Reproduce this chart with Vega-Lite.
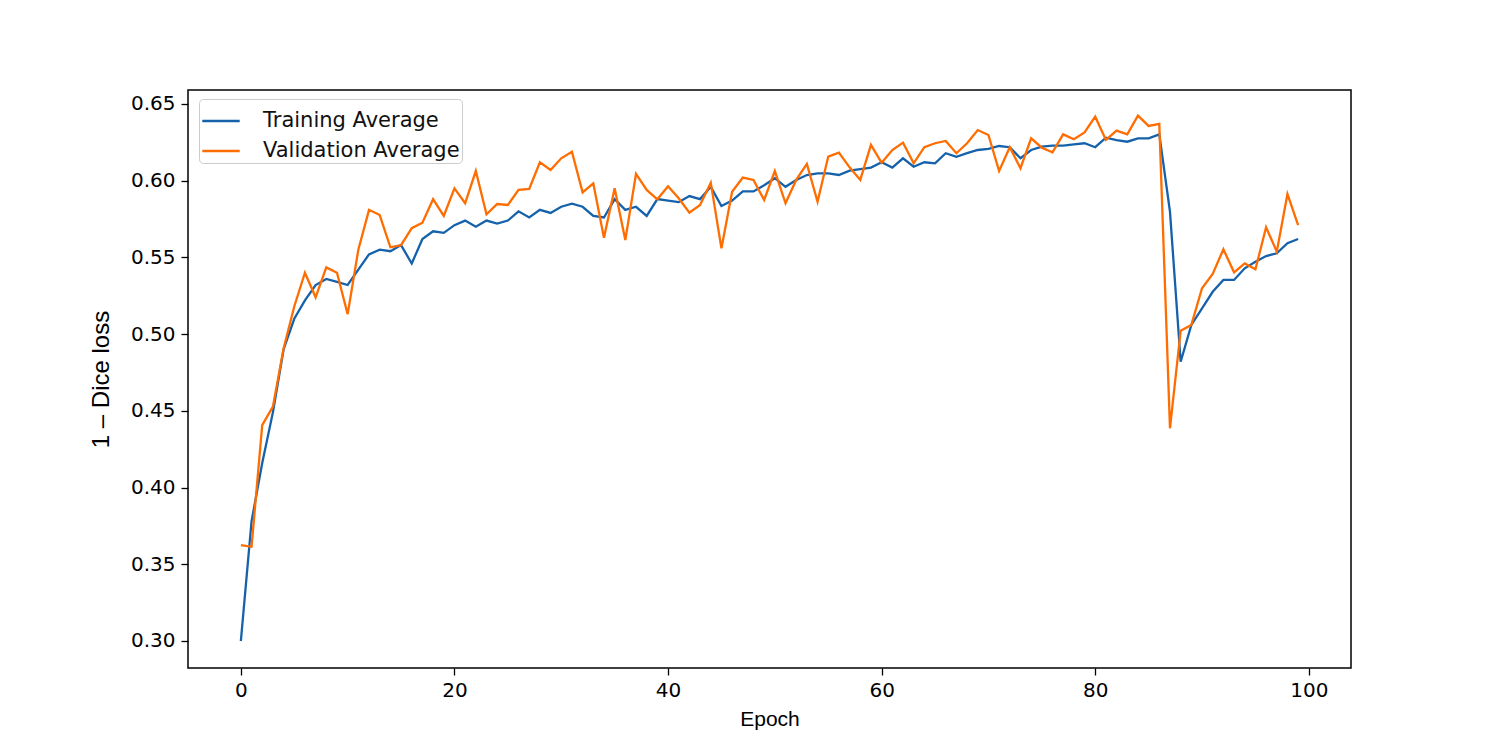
{
  "$schema": "https://vega.github.io/schema/vega-lite/v6.json",
  "width": 1163,
  "height": 578,
  "autosize": {"type": "none"},
  "padding": {"left": 188, "top": 90, "right": 149, "bottom": 82},
  "background": "white",
  "config": {
    "view": {"stroke": "black", "strokeWidth": 1.5},
    "font": "DejaVu Sans"
  },
  "data": {
    "values": [
      {"e":0,"t":0.300,"v":0.3625},{"e":1,"t":0.378,"v":0.3614},{"e":2,"t":0.416,"v":0.4407},{"e":3,"t":0.449,"v":0.4527},{"e":4,"t":0.490,"v":0.4907},
      {"e":5,"t":0.510,"v":0.518},{"e":6,"t":0.522,"v":0.540},{"e":7,"t":0.532,"v":0.524},{"e":8,"t":0.536,"v":0.5435},{"e":9,"t":0.534,"v":0.540},
      {"e":10,"t":0.532,"v":0.513},{"e":11,"t":0.542,"v":0.555},{"e":12,"t":0.552,"v":0.581},{"e":13,"t":0.555,"v":0.5776},{"e":14,"t":0.554,"v":0.5566},
      {"e":15,"t":0.558,"v":0.558},{"e":16,"t":0.546,"v":0.569},{"e":17,"t":0.562,"v":0.5726},{"e":18,"t":0.567,"v":0.5879},{"e":19,"t":0.566,"v":0.577},
      {"e":20,"t":0.571,"v":0.595},{"e":21,"t":0.574,"v":0.5853},{"e":22,"t":0.570,"v":0.6063},{"e":23,"t":0.574,"v":0.5781},{"e":24,"t":0.572,"v":0.5848},
      {"e":25,"t":0.574,"v":0.5842},{"e":26,"t":0.580,"v":0.594},{"e":27,"t":0.576,"v":0.5946},{"e":28,"t":0.581,"v":0.612},{"e":29,"t":0.579,"v":0.607},
      {"e":30,"t":0.583,"v":0.6146},{"e":31,"t":0.585,"v":0.6189},{"e":32,"t":0.583,"v":0.5924},{"e":33,"t":0.577,"v":0.5983},{"e":34,"t":0.576,"v":0.5628},
      {"e":35,"t":0.588,"v":0.595},{"e":36,"t":0.581,"v":0.5613},{"e":37,"t":0.583,"v":0.6044},{"e":38,"t":0.577,"v":0.594},{"e":39,"t":0.588,"v":0.5879},
      {"e":40,"t":0.587,"v":0.5964},{"e":41,"t":0.586,"v":0.5885},{"e":42,"t":0.590,"v":0.5792},{"e":43,"t":0.588,"v":0.5842},{"e":44,"t":0.596,"v":0.5987},
      {"e":45,"t":0.5835,"v":0.5559},{"e":46,"t":0.587,"v":0.5928},{"e":47,"t":0.593,"v":0.602},{"e":48,"t":0.593,"v":0.6005},{"e":49,"t":0.597,"v":0.5874},
      {"e":50,"t":0.6016,"v":0.6063},{"e":51,"t":0.596,"v":0.5853},{"e":52,"t":0.6005,"v":0.6005},{"e":53,"t":0.6037,"v":0.6109},{"e":54,"t":0.6048,"v":0.5863},
      {"e":55,"t":0.6048,"v":0.6157},{"e":56,"t":0.6037,"v":0.6183},{"e":57,"t":0.6065,"v":0.6087},{"e":58,"t":0.6076,"v":0.6005},{"e":59,"t":0.6085,"v":0.6233},
      {"e":60,"t":0.612,"v":0.6117},{"e":61,"t":0.6085,"v":0.620},{"e":62,"t":0.6146,"v":0.6248},{"e":63,"t":0.6091,"v":0.6113},{"e":64,"t":0.612,"v":0.6218},
      {"e":65,"t":0.6113,"v":0.6244},{"e":66,"t":0.6179,"v":0.6259},{"e":67,"t":0.6155,"v":0.6179},{"e":68,"t":0.6179,"v":0.6244},{"e":69,"t":0.620,"v":0.633},
      {"e":70,"t":0.6207,"v":0.6298},{"e":71,"t":0.6226,"v":0.6063},{"e":72,"t":0.6218,"v":0.6218},{"e":73,"t":0.6146,"v":0.6081},{"e":74,"t":0.620,"v":0.6276},
      {"e":75,"t":0.6222,"v":0.6215},{"e":76,"t":0.6228,"v":0.6185},{"e":77,"t":0.6228,"v":0.6302},{"e":78,"t":0.6237,"v":0.627},{"e":79,"t":0.6244,"v":0.6315},
      {"e":80,"t":0.6218,"v":0.6417},{"e":81,"t":0.628,"v":0.6266},{"e":82,"t":0.6265,"v":0.6326},{"e":83,"t":0.6254,"v":0.6302},{"e":84,"t":0.6276,"v":0.6424},
      {"e":85,"t":0.6276,"v":0.6357},{"e":86,"t":0.6302,"v":0.637},{"e":87,"t":0.5798,"v":0.4386},{"e":88,"t":0.482,"v":0.5022},{"e":89,"t":0.506,"v":0.506},
      {"e":90,"t":0.5168,"v":0.5299},{"e":91,"t":0.5276,"v":0.5392},{"e":92,"t":0.5353,"v":0.5553},{"e":93,"t":0.5353,"v":0.5403},{"e":94,"t":0.5429,"v":0.5461},
      {"e":95,"t":0.5472,"v":0.5422},{"e":96,"t":0.5509,"v":0.5696},{"e":97,"t":0.5527,"v":0.5537},{"e":98,"t":0.5592,"v":0.5913},{"e":99,"t":0.562,"v":0.5711}
    ]
  },
  "transform": [
    {"fold": ["t", "v"], "as": ["key", "value"]},
    {"lookup": "key", "from": {"data": {"values": [{"key": "t", "series": "Training Average"}, {"key": "v", "series": "Validation Average"}]}, "key": "key", "fields": ["series"]}}
  ],
  "mark": {"type": "line", "strokeWidth": 2.3, "clip": true},
  "encoding": {
    "x": {
      "field": "e", "type": "quantitative",
      "scale": {"domain": [-4.95, 103.95], "nice": false, "zero": false},
      "axis": {
        "title": "Epoch", "titleFont": "Liberation Sans", "titleFontSize": 21, "titleFontWeight": "normal", "titleColor": "black", "titlePadding": 8,
        "values": [0, 20, 40, 60, 80, 100], "format": "d",
        "labelFont": "DejaVu Sans", "labelFontSize": 20, "labelColor": "black", "labelPadding": 5,
        "tickColor": "black", "tickSize": 7, "tickWidth": 1.3, "domain": false, "grid": false
      }
    },
    "y": {
      "field": "value", "type": "quantitative",
      "scale": {"domain": [0.2824, 0.6591], "nice": false, "zero": false},
      "axis": {
        "title": "1 – Dice loss", "titleFont": "Liberation Sans", "titleFontSize": 24, "titleFontWeight": "normal", "titleColor": "black", "titlePadding": 17,
        "values": [0.30, 0.35, 0.40, 0.45, 0.50, 0.55, 0.60, 0.65], "format": ".2f",
        "labelFont": "DejaVu Sans", "labelFontSize": 20, "labelColor": "black", "labelPadding": 6,
        "tickColor": "black", "tickSize": 7, "tickWidth": 1.3, "domain": false, "grid": false
      }
    },
    "color": {
      "field": "series", "type": "nominal",
      "scale": {"domain": ["Training Average", "Validation Average"], "range": ["#1562ab", "#ff6c00"]},
      "legend": {
        "title": null, "orient": "none", "legendX": 11, "legendY": 9,
        "symbolType": "stroke", "symbolSize": 1400, "symbolStrokeWidth": 2.5,
        "labelFont": "DejaVu Sans", "labelFontSize": 21, "labelColor": "#111111", "labelOffset": 22, "labelLimit": 0,
        "rowPadding": 0, "padding": 2,
        "fillColor": "white", "strokeColor": "#cccccc", "cornerRadius": 4
      }
    }
  }
}
